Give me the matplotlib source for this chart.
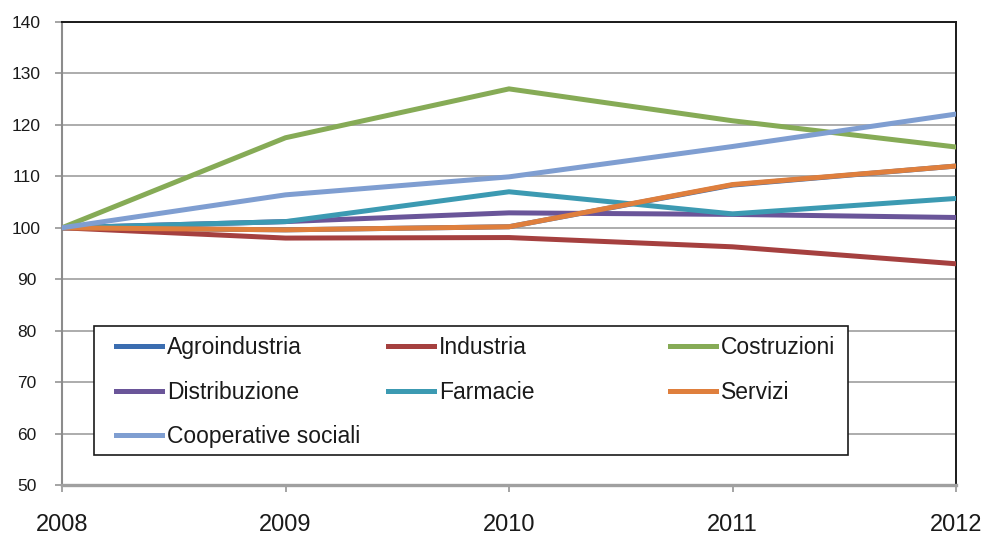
import matplotlib
matplotlib.use("Agg")
import matplotlib.pyplot as plt
from matplotlib.legend import Legend
from matplotlib.lines import Line2D
from matplotlib.patches import Rectangle

plt.rcParams["font.family"] = ["Liberation Sans", "DejaVu Sans"]

# index values, 2008 = 100
years = [2008, 2009, 2010, 2011, 2012]
agroindustria = [100, 99.6, 100.2, 108.3, 112.0]
industria = [100, 98.0, 98.1, 96.3, 93.0]
costruzioni = [100, 117.5, 127.0, 120.8, 115.7]
distribuzione = [100, 101.2, 102.9, 102.6, 102.0]
farmacie = [100, 101.2, 107.0, 102.7, 105.7]
servizi = [100, 99.6, 100.2, 108.4, 112.0]
cooperative_sociali = [100, 106.4, 109.9, 115.8, 122.1]

series = [
    ("Agroindustria", agroindustria, "#3b6db0"),
    ("Industria", industria, "#a5403f"),
    ("Costruzioni", costruzioni, "#86ab56"),
    ("Distribuzione", distribuzione, "#6a5599"),
    ("Farmacie", farmacie, "#3c9ab2"),
    ("Servizi", servizi, "#df7f3d"),
    ("Cooperative sociali", cooperative_sociali, "#7f9ed1"),
]

y_ticks = [50, 60, 70, 80, 90, 100, 110, 120, 130, 140]

fig = plt.figure(figsize=(9.86, 5.35), dpi=100)
ax = fig.add_axes([62 / 986, 50 / 535, 894 / 986, 463 / 535])

for name, vals, color in series:
    ax.plot(years, vals, color=color, linewidth=3.6, label=name,
            solid_joinstyle="miter", zorder=3)

ax.set_xlim(years[0], years[-1])
ax.set_ylim(50, 140)
ax.set_xticks(years)
ax.set_yticks(y_ticks)
ax.grid(True, axis="y", color="#a6a6a6", linewidth=1.3, zorder=1)

for side in ("top", "right"):
    ax.spines[side].set_color("#1a1a1a")
    ax.spines[side].set_linewidth(1.4)
ax.spines["left"].set_color("#8c8c8c")
ax.spines["left"].set_linewidth(1.5)
ax.spines["bottom"].set_color("#a0a0a0")
ax.spines["bottom"].set_linewidth(2.4)

ax.tick_params(axis="both", direction="out", length=5, width=1.1,
               color="#8c8c8c", labelcolor="#1a1a1a")
ax.tick_params(axis="y", labelsize=12.5, pad=20.5)
ax.tick_params(axis="x", labelsize=17, pad=16)
for lbl in ax.get_yticklabels():
    lbl.set_horizontalalignment("center")

# legend: frame plus three columns laid out on a fixed pitch
ax.add_patch(Rectangle((0.0358, 0.0648), 0.8434, 0.2786,
                       transform=ax.transAxes, facecolor="white",
                       edgecolor="#1a1a1a", linewidth=1.2, zorder=5))

handles = {name: Line2D([], [], color=color, linewidth=3.6)
           for name, _, color in series}
columns = [
    ["Agroindustria", "Distribuzione", "Cooperative sociali"],
    ["Industria", "Farmacie"],
    ["Costruzioni", "Servizi"],
]
col_x = [0.0604, 0.3647, 0.6800]
for names, x in zip(columns, col_x):
    leg = Legend(ax, [handles[n] for n in names], names, loc="upper left",
                 bbox_to_anchor=(x, 0.321), bbox_transform=ax.transAxes,
                 frameon=False, fontsize=16.5, borderpad=0,
                 borderaxespad=0, handlelength=2.0, handletextpad=0.22,
                 labelspacing=0.93, labelcolor="#1a1a1a")
    leg.set_zorder(6)
    ax.add_artist(leg)

fig.savefig("out.png", dpi=100)
